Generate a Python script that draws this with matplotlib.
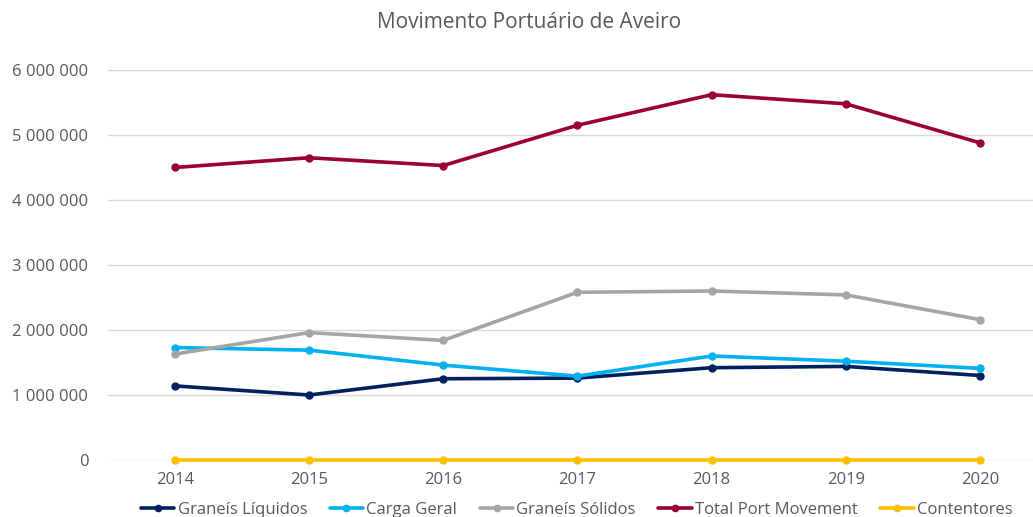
import matplotlib
matplotlib.use("Agg")
import matplotlib.pyplot as plt
from matplotlib.ticker import FuncFormatter

years = ["2014", "2015", "2016", "2017", "2018", "2019", "2020"]
graneis_liquidos = [1140000, 1000000, 1250000, 1260000, 1420000, 1440000, 1300000]
carga_geral = [1730000, 1690000, 1460000, 1290000, 1600000, 1520000, 1410000]
graneis_solidos = [1630000, 1960000, 1840000, 2580000, 2600000, 2540000, 2160000]
total_port = [4500000, 4650000, 4530000, 5150000, 5620000, 5480000, 4880000]
contentores = [0, 0, 0, 0, 0, 0, 0]

series = [
    ("Graneís Líquidos", graneis_liquidos, "#002060"),
    ("Carga Geral", carga_geral, "#00B0F0"),
    ("Graneís Sólidos", graneis_solidos, "#A5A5A5"),
    ("Total Port Movement", total_port, "#990033"),
    ("Contentores", contentores, "#FFC000"),
]

plt.rcParams["font.family"] = ["Open Sans", "DejaVu Sans"]
txt = "#595959"

fig = plt.figure()
fig.set_size_inches(10.33, 5.17)
ax = fig.add_axes([107.8 / 1033, 1 - 460 / 517, (1047 - 107.8) / 1033, 390 / 517])

x = range(len(years))
for name, vals, col in series:
    ax.plot(x, vals, color=col, lw=2.6, marker="o", ms=5, label=name,
            solid_capstyle="round", clip_on=False)

ax.set_xlim(-0.5, len(years) - 0.5)
ax.set_ylim(0, 6000000)
ax.set_yticks(range(0, 6000001, 1000000))
ax.yaxis.set_major_formatter(FuncFormatter(lambda v, p: f"{int(v):,}".replace(",", " ")))
ax.set_xticks(list(x))
ax.set_xticklabels(years)

for s in ax.spines.values():
    s.set_visible(False)
ax.grid(axis="y", color="#D9D9D9", lw=1)
ax.set_axisbelow(True)
ax.tick_params(length=0, labelsize=12, colors=txt)
ax.tick_params(axis="y", pad=14)
ax.tick_params(axis="x", pad=9)

fig.text(529 / 1033, 1 - 23 / 517, "Movimento Portuário de Aveiro",
         ha="center", va="center", fontsize=15, color=txt)

leg = fig.legend(loc="center left", bbox_to_anchor=(141 / 1033, 1 - 510 / 517),
                 ncol=5, frameon=False, fontsize=12, handlelength=2.0,
                 handletextpad=0.2, columnspacing=1.35, borderpad=0,
                 borderaxespad=0, labelcolor=txt, markerscale=0.9)

fig.savefig("out.png", dpi=100)
